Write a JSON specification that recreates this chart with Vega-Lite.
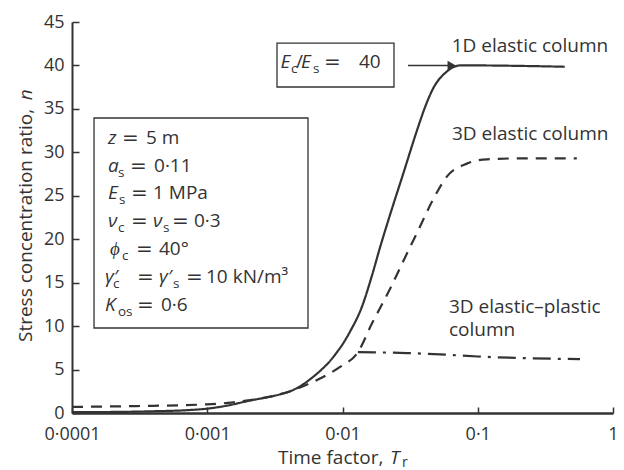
{
  "$schema": "https://vega.github.io/schema/vega-lite/v6.json",
  "width": 541,
  "height": 391,
  "autosize": {"type": "none"},
  "padding": {"left": 72, "top": 22, "right": 11, "bottom": 57},
  "background": "white",
  "config": {
    "view": {"stroke": null},
    "axis": {
      "domainColor": "#333",
      "tickColor": "#333",
      "tickWidth": 1.5,
      "labelFont": "Open Sans",
      "labelFontSize": 18,
      "labelColor": "#333",
      "grid": false
    }
  },
  "datasets": {
    "lines": [
      {"s": "1D", "T": 0.0001, "n": 0.1},
      {"s": "1D", "T": 0.0002, "n": 0.12},
      {"s": "1D", "T": 0.0004, "n": 0.2},
      {"s": "1D", "T": 0.0007, "n": 0.32},
      {"s": "1D", "T": 0.001, "n": 0.5},
      {"s": "1D", "T": 0.0014, "n": 0.85},
      {"s": "1D", "T": 0.002, "n": 1.38},
      {"s": "1D", "T": 0.00345, "n": 2.15},
      {"s": "1D", "T": 0.0041, "n": 2.5},
      {"s": "1D", "T": 0.005, "n": 3.2},
      {"s": "1D", "T": 0.006, "n": 4.1},
      {"s": "1D", "T": 0.007, "n": 5.0},
      {"s": "1D", "T": 0.0081, "n": 6.0},
      {"s": "1D", "T": 0.009, "n": 6.9},
      {"s": "1D", "T": 0.0101, "n": 8.0},
      {"s": "1D", "T": 0.0114, "n": 9.4},
      {"s": "1D", "T": 0.0139, "n": 12.2},
      {"s": "1D", "T": 0.0165, "n": 15.8},
      {"s": "1D", "T": 0.0189, "n": 19.0},
      {"s": "1D", "T": 0.0232, "n": 23.5},
      {"s": "1D", "T": 0.0282, "n": 27.6},
      {"s": "1D", "T": 0.0355, "n": 32.5},
      {"s": "1D", "T": 0.041, "n": 35.3},
      {"s": "1D", "T": 0.0466, "n": 37.3},
      {"s": "1D", "T": 0.0591, "n": 39.3},
      {"s": "1D", "T": 0.0738, "n": 40.0},
      {"s": "1D", "T": 0.1, "n": 40.0},
      {"s": "1D", "T": 0.2, "n": 39.95},
      {"s": "1D", "T": 0.44, "n": 39.85},
      {"s": "3D", "T": 0.0001, "n": 0.7},
      {"s": "3D", "T": 0.0003, "n": 0.8},
      {"s": "3D", "T": 0.001, "n": 1.0},
      {"s": "3D", "T": 0.0015, "n": 1.2},
      {"s": "3D", "T": 0.002, "n": 1.45},
      {"s": "3D", "T": 0.00345, "n": 2.15},
      {"s": "3D", "T": 0.0041, "n": 2.5},
      {"s": "3D", "T": 0.0057, "n": 3.4},
      {"s": "3D", "T": 0.0075, "n": 4.3},
      {"s": "3D", "T": 0.0096, "n": 5.3},
      {"s": "3D", "T": 0.013, "n": 7.0},
      {"s": "3D", "T": 0.0165, "n": 10.3},
      {"s": "3D", "T": 0.022, "n": 14.0},
      {"s": "3D", "T": 0.029, "n": 17.9},
      {"s": "3D", "T": 0.036, "n": 20.9},
      {"s": "3D", "T": 0.0458, "n": 24.3},
      {"s": "3D", "T": 0.0591, "n": 27.2},
      {"s": "3D", "T": 0.083, "n": 28.7},
      {"s": "3D", "T": 0.117, "n": 29.2},
      {"s": "3D", "T": 0.2, "n": 29.3},
      {"s": "3D", "T": 0.54, "n": 29.3},
      {"s": "EP", "T": 0.013, "n": 7.0},
      {"s": "EP", "T": 0.03, "n": 6.9},
      {"s": "EP", "T": 0.06, "n": 6.7},
      {"s": "EP", "T": 0.1, "n": 6.5},
      {"s": "EP", "T": 0.25, "n": 6.3},
      {"s": "EP", "T": 0.57, "n": 6.2}
    ],
    "boxes": [
      {"T": 0.0001455, "T2": 0.005557, "n": 33.95, "n2": 9.78},
      {"T": 0.003279, "T2": 0.02403, "n": 42.58, "n2": 37.52}
    ],
    "arrow": [{"T": 0.03049, "T2": 0.064, "n": 40}],
    "arrowhead": [{"T": 0.06418, "n": 40}],
    "italic18": [
      {"T": 0.0001846, "n": 30.96, "label": "z"},
      {"T": 0.0001846, "n": 27.77, "label": "a"},
      {"T": 0.0001846, "n": 24.59, "label": "E"},
      {"T": 0.0001846, "n": 21.44, "label": "ν"},
      {"T": 0.0003971, "n": 21.44, "label": "ν"},
      {"T": 0.000191, "n": 18.18, "label": "ϕ"},
      {"T": 0.0001754, "n": 14.99, "label": "γ′"},
      {"T": 0.0004398, "n": 14.99, "label": "γ′"},
      {"T": 0.0001754, "n": 11.74, "label": "K"},
      {"T": 0.00348, "n": 39.74, "label": "E"},
      {"T": 0.004934, "n": 39.74, "label": "E"}
    ],
    "regular18": [
      {"T": 0.0003524, "n": 30.96, "label": "5 m"},
      {"T": 0.000404, "n": 27.77, "label": "0·11"},
      {"T": 0.0003971, "n": 24.59, "label": "1 MPa"},
      {"T": 0.0007979, "n": 21.44, "label": "0·3"},
      {"T": 0.0004398, "n": 18.18, "label": "40°"},
      {"T": 0.000979, "n": 14.99, "label": "10 kN/m³"},
      {"T": 0.0004549, "n": 11.74, "label": "0·6"},
      {"T": 0.004531, "n": 39.74, "label": "/"},
      {"T": 0.013243, "n": 39.74, "label": "40"}
    ],
    "eq": [
      {"T": 0.0002343, "n": 30.96, "label": "="},
      {"T": 0.0002684, "n": 27.77, "label": "="},
      {"T": 0.000273, "n": 24.59, "label": "="},
      {"T": 0.000273, "n": 21.44, "label": "="},
      {"T": 0.0005487, "n": 21.44, "label": "="},
      {"T": 0.0002973, "n": 18.18, "label": "="},
      {"T": 0.0003024, "n": 14.99, "label": "="},
      {"T": 0.0006965, "n": 14.99, "label": "="},
      {"T": 0.0003024, "n": 11.74, "label": "="},
      {"T": 0.007298, "n": 39.74, "label": "="}
    ],
    "sub13": [
      {"T": 0.0002188, "n": 27.77, "label": "s"},
      {"T": 0.0002226, "n": 24.59, "label": "s"},
      {"T": 0.0002188, "n": 21.44, "label": "c"},
      {"T": 0.0004707, "n": 21.44, "label": "s"},
      {"T": 0.0002343, "n": 18.18, "label": "c"},
      {"T": 0.000201, "n": 14.99, "label": "c"},
      {"T": 0.0005582, "n": 14.99, "label": "s"},
      {"T": 0.0002188, "n": 11.74, "label": "os"},
      {"T": 0.004161, "n": 39.74, "label": "c"},
      {"T": 0.006051, "n": 39.74, "label": "s"}
    ],
    "annot19": [
      {"T": 0.06418, "n": 41.51, "label": "1D elastic column"},
      {"T": 0.06451, "n": 31.42, "label": "3D elastic column"},
      {"T": 0.06129, "n": 11.47, "label": "3D elastic–plastic"},
      {"T": 0.06129, "n": 8.86, "label": "column"},
      {"T": 0.003335, "n": -5.87, "label": "Time factor,"}
    ],
    "titleItalic": [{"T": 0.02245, "n": -5.87, "label": "T"}],
    "titleSub": [{"T": 0.02754, "n": -5.87, "label": "r"}],
    "ytitle": [{"T": 0.00005086, "n": 8.171, "label": "Stress concentration ratio,"}],
    "ytitleItalic": [{"T": 0.00005086, "n": 36.0, "label": "n"}]
  },
  "encoding": {
    "x": {
      "field": "T",
      "type": "quantitative",
      "scale": {"type": "log", "domain": [0.0001, 1], "nice": false},
      "axis": {
        "title": null,
        "values": [0.0001, 0.001, 0.01, 0.1, 1],
        "labelExpr": "replace(format(datum.value, '~g'), '.', '·')",
        "tickSize": -6,
        "labelPadding": 18,
        "domainWidth": 2.5,
        "labelFlush": false,
        "labelOverlap": false
      }
    },
    "y": {
      "field": "n",
      "type": "quantitative",
      "scale": {"domain": [0, 45], "nice": false, "zero": false},
      "axis": {
        "title": null,
        "values": [0, 5, 10, 15, 20, 25, 30, 35, 40, 45],
        "tickSize": -7,
        "labelPadding": 15,
        "domainWidth": 2
      }
    }
  },
  "layer": [
    {
      "data": {"name": "boxes"},
      "mark": {"type": "rect", "fill": "white", "stroke": "#333", "strokeWidth": 1.3},
      "encoding": {"x2": {"field": "T2"}, "y2": {"field": "n2"}}
    },
    {
      "data": {"name": "lines"},
      "mark": {"type": "line", "color": "#333", "strokeWidth": 2.2, "interpolate": "monotone"},
      "encoding": {
        "strokeDash": {
          "field": "s",
          "type": "nominal",
          "scale": {"domain": ["1D", "3D", "EP"], "range": [[1, 0], [11, 8], [18, 7, 3, 7]]},
          "legend": null
        }
      }
    },
    {
      "data": {"name": "arrow"},
      "mark": {"type": "rule", "color": "#333", "strokeWidth": 1.5},
      "encoding": {"x2": {"field": "T2"}}
    },
    {
      "data": {"name": "arrowhead"},
      "mark": {"type": "point", "shape": "triangle-right", "filled": true, "color": "#333", "size": 90, "opacity": 1}
    },
    {
      "data": {"name": "italic18"},
      "mark": {"type": "text", "align": "left", "baseline": "alphabetic", "font": "Open Sans", "fontSize": 19, "fontStyle": "italic", "color": "#333"},
      "encoding": {"text": {"field": "label"}}
    },
    {
      "data": {"name": "regular18"},
      "mark": {"type": "text", "align": "left", "baseline": "alphabetic", "font": "Open Sans", "fontSize": 19, "color": "#333"},
      "encoding": {"text": {"field": "label"}}
    },
    {
      "data": {"name": "eq"},
      "mark": {"type": "text", "align": "left", "baseline": "alphabetic", "font": "DejaVu Sans", "fontSize": 20, "color": "#333"},
      "encoding": {"text": {"field": "label"}}
    },
    {
      "data": {"name": "sub13"},
      "mark": {"type": "text", "align": "left", "baseline": "alphabetic", "font": "Open Sans", "fontSize": 13.5, "dy": 5, "color": "#333"},
      "encoding": {"text": {"field": "label"}}
    },
    {
      "data": {"name": "annot19"},
      "mark": {"type": "text", "align": "left", "baseline": "alphabetic", "font": "Open Sans", "fontSize": 19, "color": "#333"},
      "encoding": {"text": {"field": "label"}}
    },
    {
      "data": {"name": "titleItalic"},
      "mark": {"type": "text", "align": "left", "baseline": "alphabetic", "font": "Open Sans", "fontSize": 19, "fontStyle": "italic", "color": "#333"},
      "encoding": {"text": {"field": "label"}}
    },
    {
      "data": {"name": "titleSub"},
      "mark": {"type": "text", "align": "left", "baseline": "alphabetic", "font": "Open Sans", "fontSize": 14, "dy": 3, "color": "#333"},
      "encoding": {"text": {"field": "label"}}
    },
    {
      "data": {"name": "ytitle"},
      "mark": {"type": "text", "align": "left", "baseline": "alphabetic", "angle": 270, "font": "Open Sans", "fontSize": 19, "color": "#333"},
      "encoding": {"text": {"field": "label"}}
    },
    {
      "data": {"name": "ytitleItalic"},
      "mark": {"type": "text", "align": "left", "baseline": "alphabetic", "angle": 270, "font": "Open Sans", "fontSize": 19, "fontStyle": "italic", "color": "#333"},
      "encoding": {"text": {"field": "label"}}
    }
  ]
}
